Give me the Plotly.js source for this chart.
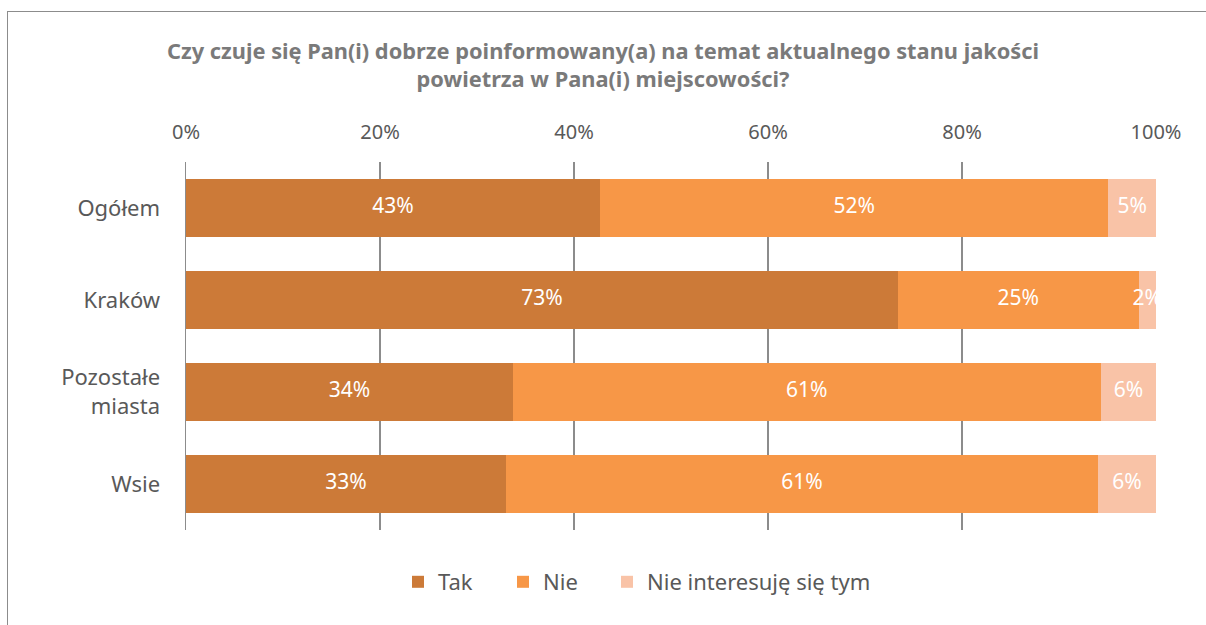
<!DOCTYPE html>
<html>
<head>
<meta charset="utf-8">
<script src="https://cdn.plot.ly/plotly-3.0.1.min.js"></script>
<style>
html,body{margin:0;padding:0;background:#fff;overflow:hidden;}
#frame{position:absolute;left:7px;top:11px;width:1300px;height:700px;border:1.5px solid #8c8c8c;box-sizing:border-box;}
#chart{position:absolute;left:0;top:0;width:1206px;height:625px;}
</style>
</head>
<body>
<div id="frame"></div>
<div id="chart"></div>
<script>
const categories = ["Ogółem", "Kraków", "Pozostałe<br>miasta", "Wsie"];
const tak = [42.7, 73.4, 33.7, 33.0];
const nie = [52.4, 24.8, 60.6, 61.0];
const nieInteresuje = [4.9, 1.8, 5.7, 6.0];
const takLabels = ["43%", "73%", "34%", "33%"];
const nieLabels = ["52%", "25%", "61%", "61%"];
const niLabels = ["5%", "2%", "6%", "6%"];
const tickVals = [0, 20, 40, 60, 80, 100];
const tickText = ["0%", "20%", "40%", "60%", "80%", "100%"];

const FONT = "Noto Sans, Open Sans, sans-serif";
const series = [
  {name: 'Tak', vals: tak, labels: takLabels, color: '#CC7A38', legend: 'legend'},
  {name: 'Nie', vals: nie, labels: nieLabels, color: '#F79747', legend: 'legend2'},
  {name: 'Nie interesuję się tym', vals: nieInteresuje, labels: niLabels, color: '#F9C3A7', legend: 'legend3'}
];
const data = [];
const base = categories.map(() => 0);
series.forEach(s => {
  data.push({
    type: 'bar', orientation: 'h', name: s.name, legend: s.legend,
    y: categories, x: s.vals,
    marker: {color: s.color},
    hoverinfo: 'skip'
  });
});
series.forEach(s => {
  const mids = s.vals.map((v, i) => base[i] + v / 2);
  s.vals.forEach((v, i) => { base[i] += v; });
  data.push({
    type: 'scatter', mode: 'text', showlegend: false,
    y: categories, x: mids, text: s.labels,
    textposition: 'middle center', cliponaxis: false,
    textfont: {family: FONT, size: 21, color: '#ffffff'},
    hoverinfo: 'skip'
  });
});
function leg(xpx){
  return {
    orientation: 'h', x: xpx / 1206, xref: 'container', xanchor: 'left',
    y: 1 - 582 / 625, yref: 'container', yanchor: 'middle',
    font: {family: FONT, size: 22, color: '#595959'},
    itemclick: false, bgcolor: 'rgba(0,0,0,0)'
  };
}
const layout = {
  width: 1206, height: 625,
  paper_bgcolor: 'rgba(0,0,0,0)', plot_bgcolor: 'rgba(0,0,0,0)',
  margin: {l: 186, r: 50, t: 162, b: 95},
  barmode: 'stack', bargap: 0.38,
  font: {family: FONT, color: '#595959'},
  title: {
    text: 'Czy czuje się Pan(i) dobrze poinformowany(a) na temat aktualnego stanu jakości<br>powietrza w Pana(i) miejscowości?',
    font: {family: FONT, size: 21.8, color: '#7a7a7a', weight: 'bold'},
    x: 0.5, xref: 'container', xanchor: 'center',
    y: 1 - 59/625, yref: 'container', yanchor: 'top'
  },
  xaxis: {
    side: 'top', range: [0, 100], tickvals: tickVals, ticktext: tickText,
    showgrid: true, gridcolor: '#8c8c8c', gridwidth: 1.5,
    zeroline: false, showline: false, ticks: '', ticklabelstandoff: 18,
    tickfont: {family: FONT, size: 20, color: '#595959'},
    fixedrange: true
  },
  yaxis: {
    autorange: 'reversed', showgrid: false, zeroline: false,
    showline: true, linecolor: '#8c8c8c', linewidth: 1.5,
    ticks: '', ticklabelstandoff: 20,
    tickfont: {family: FONT, size: 22, color: '#595959'},
    fixedrange: true
  },
  showlegend: true,
  legend: leg(398),
  legend2: leg(503),
  legend3: leg(607)
};
Plotly.newPlot('chart', data, layout, {displayModeBar: false, staticPlot: true});
</script>
</body>
</html>
